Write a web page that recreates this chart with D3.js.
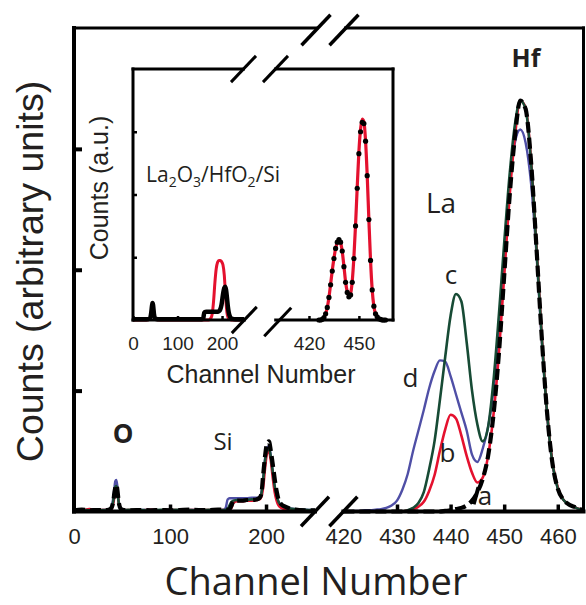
<!DOCTYPE html>
<html>
<head>
<meta charset="utf-8">
<script src="https://cdn.jsdelivr.net/npm/d3@7"></script>
<style>
body{margin:0;background:#fff}
svg{display:block}
</style>
</head>
<body>
<svg id="chart"></svg>
<script>
// ---- main chart, low channels (O, Si) ----
const chLow = [0, 8, 16, 24, 30, 36, 39, 41, 42, 43, 44, 45, 46, 47, 49, 52, 60, 70, 80, 90, 100, 110, 120, 130, 140, 150, 156, 158, 160, 162, 164, 166, 170, 175, 180, 185, 190, 193, 195, 197, 199, 201, 203, 205, 207, 209, 211, 213, 216, 220, 225, 230, 240, 251]
const aLow = [0.01, 0.015, 0.01, 0.012, 0.01, 0.015, 0.03, 0.09, 0.15, 0.2, 0.22, 0.19, 0.12, 0.06, 0.02, 0.012, 0.01, 0.012, 0.01, 0.012, 0.01, 0.012, 0.015, 0.012, 0.012, 0.015, 0.015, 0.015, 0.015, 0.02, 0.05, 0.085, 0.09, 0.09, 0.095, 0.095, 0.1, 0.11, 0.14, 0.3, 0.46, 0.56, 0.58, 0.5, 0.39, 0.27, 0.17, 0.1, 0.06, 0.04, 0.025, 0.015, 0.01, 0.01]
const bLow = [0.015, 0.01, 0.02, 0.01, 0.012, 0.01, 0.02, 0.07, 0.12, 0.17, 0.19, 0.17, 0.11, 0.05, 0.02, 0.01, 0.012, 0.01, 0.015, 0.01, 0.012, 0.01, 0.012, 0.01, 0.012, 0.01, 0.012, 0.01, 0.012, 0.015, 0.03, 0.07, 0.085, 0.085, 0.09, 0.09, 0.095, 0.1, 0.12, 0.2, 0.36, 0.48, 0.5, 0.42, 0.28, 0.16, 0.09, 0.05, 0.03, 0.02, 0.015, 0.012, 0.01, 0.01]
const cLow = [0.01, 0.012, 0.01, 0.015, 0.012, 0.012, 0.03, 0.09, 0.15, 0.2, 0.21, 0.18, 0.11, 0.05, 0.02, 0.012, 0.015, 0.012, 0.01, 0.015, 0.012, 0.015, 0.012, 0.01, 0.015, 0.012, 0.012, 0.015, 0.02, 0.05, 0.08, 0.09, 0.095, 0.09, 0.095, 0.1, 0.1, 0.11, 0.14, 0.26, 0.42, 0.51, 0.52, 0.45, 0.33, 0.21, 0.13, 0.08, 0.05, 0.035, 0.025, 0.02, 0.015, 0.012]
const dLow = [0.012, 0.01, 0.012, 0.01, 0.012, 0.015, 0.04, 0.12, 0.19, 0.25, 0.26, 0.22, 0.13, 0.06, 0.02, 0.012, 0.01, 0.012, 0.012, 0.01, 0.012, 0.01, 0.012, 0.012, 0.01, 0.012, 0.015, 0.03, 0.1, 0.11, 0.11, 0.11, 0.11, 0.11, 0.11, 0.115, 0.115, 0.12, 0.15, 0.28, 0.44, 0.53, 0.54, 0.46, 0.33, 0.21, 0.13, 0.08, 0.05, 0.035, 0.025, 0.02, 0.015, 0.012]

// ---- main chart, high channels (La, Hf) ----
const chHigh = [420, 421, 422, 423, 424, 425, 426, 427, 428, 429, 430, 431, 432, 433, 434, 435, 436, 437, 438, 439, 440, 441, 442, 443, 444, 445, 446, 447, 448, 449, 450, 451, 452, 453, 454, 455, 456, 457, 458, 459, 460, 461, 462, 463, 464, 465]
const aHigh = [0, 0, 0, 0, 0, 0, 0, 0, 0, 0, 0, 0, 0, 0, 0, 0, 0, 0, 0, 0.005, 0.01, 0.02, 0.03, 0.05, 0.09, 0.16, 0.27, 0.46, 0.8, 1.3, 1.95, 2.6, 3.1, 3.4, 3.33, 2.9, 2.2, 1.45, 0.82, 0.4, 0.19, 0.1, 0.06, 0.04, 0.02, 0.015]
const bHigh = [0, 0, 0, 0, 0, 0, 0, 0, 0, 0, 0, 0, 0.01, 0.02, 0.04, 0.08, 0.17, 0.3, 0.5, 0.68, 0.8, 0.77, 0.63, 0.46, 0.32, 0.24, 0.28, 0.46, 0.8, 1.3, 1.95, 2.6, 3.1, 3.4, 3.34, 2.92, 2.22, 1.46, 0.83, 0.41, 0.2, 0.1, 0.06, 0.04, 0.02, 0.015]
const cHigh = [0, 0, 0, 0, 0, 0, 0, 0, 0, 0, 0, 0, 0.01, 0.03, 0.07, 0.16, 0.35, 0.58, 0.92, 1.28, 1.62, 1.8, 1.74, 1.4, 1.0, 0.72, 0.58, 0.7, 1.08, 1.62, 2.22, 2.78, 3.2, 3.4, 3.33, 2.9, 2.2, 1.45, 0.82, 0.4, 0.19, 0.1, 0.06, 0.04, 0.02, 0.015]
const dHigh = [0, 0, 0.005, 0.005, 0.01, 0.01, 0.015, 0.02, 0.03, 0.05, 0.09, 0.18, 0.31, 0.5, 0.67, 0.84, 1.02, 1.16, 1.25, 1.24, 1.12, 0.97, 0.82, 0.67, 0.47, 0.41, 0.52, 0.7, 1.0, 1.45, 2.0, 2.7, 3.05, 3.16, 3.05, 2.72, 2.15, 1.42, 0.8, 0.4, 0.19, 0.1, 0.06, 0.04, 0.02, 0.015]

// ---- inset (La2O3/HfO2/Si) ----
const insChLow = [0, 10, 20, 30, 38, 41, 43, 44, 45, 47, 50, 60, 80, 100, 120, 140, 155, 158, 160, 165, 170, 175, 178, 181, 184, 187, 190, 193, 196, 199, 202, 205, 207, 209, 211, 213, 215, 218, 222, 230, 240, 250]
const insSimLow = [0, 0, 0, 0, 0.01, 0.12, 0.24, 0.27, 0.24, 0.1, 0.01, 0, 0, 0, 0, 0, 0, 0, 0, 0, 0, 0.03, 0.1, 0.3, 0.6, 0.82, 0.92, 0.95, 0.95, 0.93, 0.88, 0.72, 0.5, 0.28, 0.12, 0.05, 0.02, 0.01, 0, 0, 0, 0]
const insDataLow = [0.01, 0.01, 0.01, 0.01, 0.02, 0.12, 0.24, 0.27, 0.24, 0.1, 0.02, 0.01, 0.01, 0.01, 0.01, 0.01, 0.01, 0.03, 0.12, 0.13, 0.13, 0.13, 0.13, 0.13, 0.13, 0.13, 0.13, 0.14, 0.17, 0.25, 0.4, 0.51, 0.53, 0.48, 0.36, 0.22, 0.12, 0.05, 0.02, 0.01, 0.01, 0.01]
const insChHigh = [426, 427, 428, 429, 430, 431, 432, 433, 434, 435, 436, 437, 438, 439, 440, 441, 442, 443, 444, 445, 446, 447, 448, 449, 450, 451, 452, 453, 454, 455, 456, 457, 458, 459, 460, 461, 462, 463, 464, 465, 466]
const insDataHigh = [0, 0, 0.01, 0.04, 0.1, 0.2, 0.36, 0.56, 0.78, 0.98, 1.14, 1.24, 1.28, 1.24, 1.1, 0.85, 0.6, 0.44, 0.37, 0.4, 0.6, 0.98, 1.5, 2.1, 2.65, 3.0, 3.15, 3.13, 2.85, 2.3, 1.6, 0.95, 0.48, 0.22, 0.1, 0.05, 0.02, 0.01, 0, 0, 0]
const insSimHigh = [0, 0, 0.01, 0.04, 0.1, 0.2, 0.36, 0.57, 0.79, 0.98, 1.14, 1.23, 1.27, 1.23, 1.09, 0.86, 0.61, 0.45, 0.38, 0.42, 0.62, 1.0, 1.52, 2.12, 2.68, 3.04, 3.2, 3.16, 2.86, 2.3, 1.6, 0.95, 0.48, 0.22, 0.1, 0.05, 0.02, 0.01, 0, 0, 0]

const ticksLow = [0, 100, 200]
const ticksHigh = [420, 430, 440, 450, 460]
const yTicks = [1, 2, 3]
const insTicksLow = [0, 100, 200]
const insTicksHigh = [420, 450]

const colA = "#000000"
const colB = "#e4112e"
const colC = "#174b35"
const colD = "#4f4fa6"
const txtCol = "#231f20"
const fontArial = "'Liberation Sans', Arial, sans-serif"
const fontCal = "'Open Sans', 'Noto Sans', sans-serif"

const W = 586, H = 605
const svg = d3.select('#chart').attr('width', W).attr('height', H)

// main scales (broken x axis)
const frameL = 74, frameR = 583.5, frameT = 28, frameB = 511.5
const xLow = d3.scaleLinear().domain([0, 251]).range([frameL, 315])
const xHigh = d3.scaleLinear().domain([420, 464.8]).range([343.4, frameR])
const y = d3.scaleLinear().domain([0, 4]).range([frameB, frameT])

// inset scales
const insL = 133, insR = 393, insT = 69, insB = 320
const ixLow = d3.scaleLinear().domain([0, 250]).range([insL, 244.3])
const ixHigh = d3.scaleLinear().domain([400, 470.5]).range([275.7, insR])
const iy = d3.scaleLinear().domain([0, 4]).range([insB, insT])

function zipPts(xs, ys) { return xs.map((c, i) => [c, ys[i]]) }

function drawCurve(g, sx, sy, xs, ys, color, width, dash) {
  const line = d3.line().x(d => sx(d[0])).y(d => sy(d[1])).curve(d3.curveMonotoneX)
  const p = g.append('path')
    .datum(zipPts(xs, ys))
    .attr('d', line)
    .attr('fill', 'none')
    .attr('stroke', color)
    .attr('stroke-width', width)
    .attr('stroke-linejoin', 'round')
  if (dash) p.attr('stroke-dasharray', dash)
  return p
}

function slash(g, cx, cy, half, w) {
  g.append('line')
    .attr('x1', cx - half).attr('y1', cy + half * 1.05)
    .attr('x2', cx + half).attr('y2', cy - half * 1.05)
    .attr('stroke', '#000').attr('stroke-width', w)
}

// ---------- main curves ----------
const gMain = svg.append('g')
drawCurve(gMain, xLow, y, chLow, dLow, colD, 2.4)
drawCurve(gMain, xHigh, y, chHigh, dHigh, colD, 2.4)
drawCurve(gMain, xLow, y, chLow, bLow, colB, 2.6)
drawCurve(gMain, xHigh, y, chHigh, bHigh, colB, 2.6)
drawCurve(gMain, xLow, y, chLow, cLow, colC, 2.6)
drawCurve(gMain, xHigh, y, chHigh, cHigh, colC, 2.6)
drawCurve(gMain, xLow, y, chLow, aLow, colA, 4.2, "11,5")
drawCurve(gMain, xHigh, y, chHigh, aHigh, colA, 4.2, "11,5")

// ---------- main frame ----------
const gFrame = svg.append('g').attr('stroke', '#000').attr('stroke-linecap', 'square')
gFrame.append('line').attr('x1', frameL).attr('y1', frameT).attr('x2', frameL).attr('y2', frameB).attr('stroke-width', 4)
gFrame.append('line').attr('x1', frameR).attr('y1', frameT).attr('x2', frameR).attr('y2', frameB).attr('stroke-width', 3)
gFrame.append('line').attr('x1', frameL).attr('y1', frameB).attr('x2', xLow(251)).attr('y2', frameB).attr('stroke-width', 4)
gFrame.append('line').attr('x1', xHigh(420)).attr('y1', frameB).attr('x2', frameR).attr('y2', frameB).attr('stroke-width', 4)
gFrame.append('line').attr('x1', frameL).attr('y1', frameT).attr('x2', 317).attr('y2', frameT).attr('stroke-width', 3)
gFrame.append('line').attr('x1', 345.5).attr('y1', frameT).attr('x2', frameR).attr('y2', frameT).attr('stroke-width', 3)
slash(svg, xLow(251), frameB, 14, 3.5)
slash(svg, xHigh(420), frameB, 14, 3.5)
slash(svg, 316, frameT + 2, 14.5, 3.5)
slash(svg, 344, frameT + 2, 14.5, 3.5)

// main axes (ticks point inward)
function styleAxis(g, fs, tw) {
  g.select('.domain').remove()
  g.selectAll('.tick line').attr('stroke', '#000').attr('stroke-width', tw)
  g.selectAll('.tick text').attr('fill', txtCol).style('font-family', fontArial).style('font-size', fs + 'px')
}
const gxLow = svg.append('g').attr('transform', `translate(0,${frameB})`)
  .call(d3.axisBottom(xLow).tickValues(ticksLow).tickSizeInner(-7).tickSizeOuter(0).tickPadding(17))
styleAxis(gxLow, 22, 3.5)
gxLow.selectAll('.tick').filter(d => d === 0).select('line').remove()
const gxHigh = svg.append('g').attr('transform', `translate(0,${frameB})`)
  .call(d3.axisBottom(xHigh).tickValues(ticksHigh).tickSizeInner(-7).tickSizeOuter(0).tickPadding(17))
styleAxis(gxHigh, 22, 3.5)
gxHigh.selectAll('.tick').filter(d => d === 420).select('line').remove()
const gy = svg.append('g').attr('transform', `translate(${frameL},0)`)
  .call(d3.axisLeft(y).tickValues(yTicks).tickSizeInner(-8).tickSizeOuter(0).tickFormat(''))
styleAxis(gy, 22, 4)

// axis titles
svg.append('text')
  .attr('x', 316).attr('y', 595)
  .attr('text-anchor', 'middle')
  .attr('fill', txtCol)
  .style('font-family', fontCal).style('font-size', '38px')
  .text('Channel Number')
svg.append('text')
  .attr('transform', 'translate(43,271.5) rotate(-90)')
  .attr('text-anchor', 'middle')
  .attr('fill', txtCol)
  .style('font-family', fontArial).style('font-size', '37.5px')
  .text('Counts (arbitrary units)')

// peak labels
const labels = [
  {t: 'Hf', x: 526, y: 67, s: 25, w: 'bold'},
  {t: 'La', x: 441, y: 213, s: 28, w: 'normal'},
  {t: 'c', x: 451, y: 284, s: 26, w: 'normal'},
  {t: 'd', x: 410.5, y: 387, s: 26, w: 'normal'},
  {t: 'b', x: 447.5, y: 462, s: 26, w: 'normal'},
  {t: 'a', x: 485, y: 505, s: 26, w: 'normal'},
  {t: 'O', x: 123, y: 443, s: 26, w: 'bold'},
  {t: 'Si', x: 223, y: 450, s: 24, w: 'normal'}
]
svg.append('g').selectAll('text')
  .data(labels)
  .join('text')
  .attr('x', d => d.x).attr('y', d => d.y)
  .attr('text-anchor', 'middle')
  .attr('fill', txtCol)
  .style('font-family', fontCal)
  .style('font-size', d => d.s + 'px')
  .style('font-weight', d => d.w)
  .text(d => d.t)
// little "a" pointer
svg.append('line')
  .attr('x1', xHigh(444.3)).attr('y1', y(0.06)).attr('x2', xHigh(445.2)).attr('y2', y(0.2))
  .attr('stroke', '#000').attr('stroke-width', 4)

// ---------- inset ----------
const gIns = svg.append('g')
drawCurve(gIns, ixLow, iy, insChLow, insSimLow, colB, 3)
drawCurve(gIns, ixLow, iy, insChLow, insDataLow, colA, 4.5)
drawCurve(gIns, ixHigh, iy, insChHigh, insSimHigh, colB, 3.2)
gIns.append('g').selectAll('circle')
  .data(zipPts(insChHigh, insDataHigh))
  .join('circle')
  .attr('cx', d => ixHigh(d[0]))
  .attr('cy', d => iy(d[1]))
  .attr('r', 2.6)
  .attr('fill', '#000')

const gInsF = svg.append('g').attr('stroke', '#000').attr('stroke-width', 3).attr('stroke-linecap', 'square')
gInsF.append('line').attr('x1', insL).attr('y1', insT).attr('x2', insL).attr('y2', insB)
gInsF.append('line').attr('x1', insR).attr('y1', insT).attr('x2', insR).attr('y2', insB)
gInsF.append('line').attr('x1', insL).attr('y1', insB).attr('x2', ixLow(250)).attr('y2', insB)
gInsF.append('line').attr('x1', ixHigh(400)).attr('y1', insB).attr('x2', insR).attr('y2', insB)
gInsF.append('line').attr('x1', insL).attr('y1', insT).attr('x2', 243.5).attr('y2', insT)
gInsF.append('line').attr('x1', 275.5).attr('y1', insT).attr('x2', insR).attr('y2', insT)
slash(svg, 243.5, insT, 12.5, 3)
slash(svg, 275.5, insT, 12.5, 3)
slash(svg, ixLow(250), insB, 12.5, 3)
slash(svg, ixHigh(400) + 2, insB + 2, 13.5, 3)

const gixLow = svg.append('g').attr('transform', `translate(0,${insB})`)
  .call(d3.axisBottom(ixLow).tickValues(insTicksLow).tickSizeInner(-4).tickSizeOuter(0).tickPadding(16.5))
styleAxis(gixLow, 19, 2.5)
const gixHigh = svg.append('g').attr('transform', `translate(0,${insB})`)
  .call(d3.axisBottom(ixHigh).tickValues(insTicksHigh).tickSizeInner(-4).tickSizeOuter(0).tickPadding(16.5))
styleAxis(gixHigh, 19, 2.5)
const giy = svg.append('g').attr('transform', `translate(${insL},0)`)
  .call(d3.axisLeft(iy).tickValues(yTicks).tickSizeInner(-4).tickSizeOuter(0).tickFormat(''))
styleAxis(giy, 19, 2.5)

svg.append('text')
  .attr('x', 261).attr('y', 383)
  .attr('text-anchor', 'middle')
  .attr('fill', txtCol)
  .style('font-family', fontArial).style('font-size', '25px')
  .text('Channel Number')
svg.append('text')
  .attr('transform', 'translate(108,188) rotate(-90)')
  .attr('text-anchor', 'middle')
  .attr('fill', txtCol)
  .style('font-family', fontArial).style('font-size', '25px')
  .text('Counts (a.u.)')

// compound label with subscripts
const comp = svg.append('text')
  .attr('x', 146).attr('y', 182)
  .attr('fill', txtCol)
  .style('font-family', fontCal).style('font-size', '21px')
const parts = [['La', 0], ['2', 1], ['O', 0], ['3', 1], ['/HfO', 0], ['2', 1], ['/Si', 0]]
parts.forEach(([t, sub], i) => {
  const ts = comp.append('tspan').text(t)
  if (sub) ts.attr('dy', 5).style('font-size', '14px')
  else if (i > 0) ts.attr('dy', -5)
})
</script>
</body>
</html>
